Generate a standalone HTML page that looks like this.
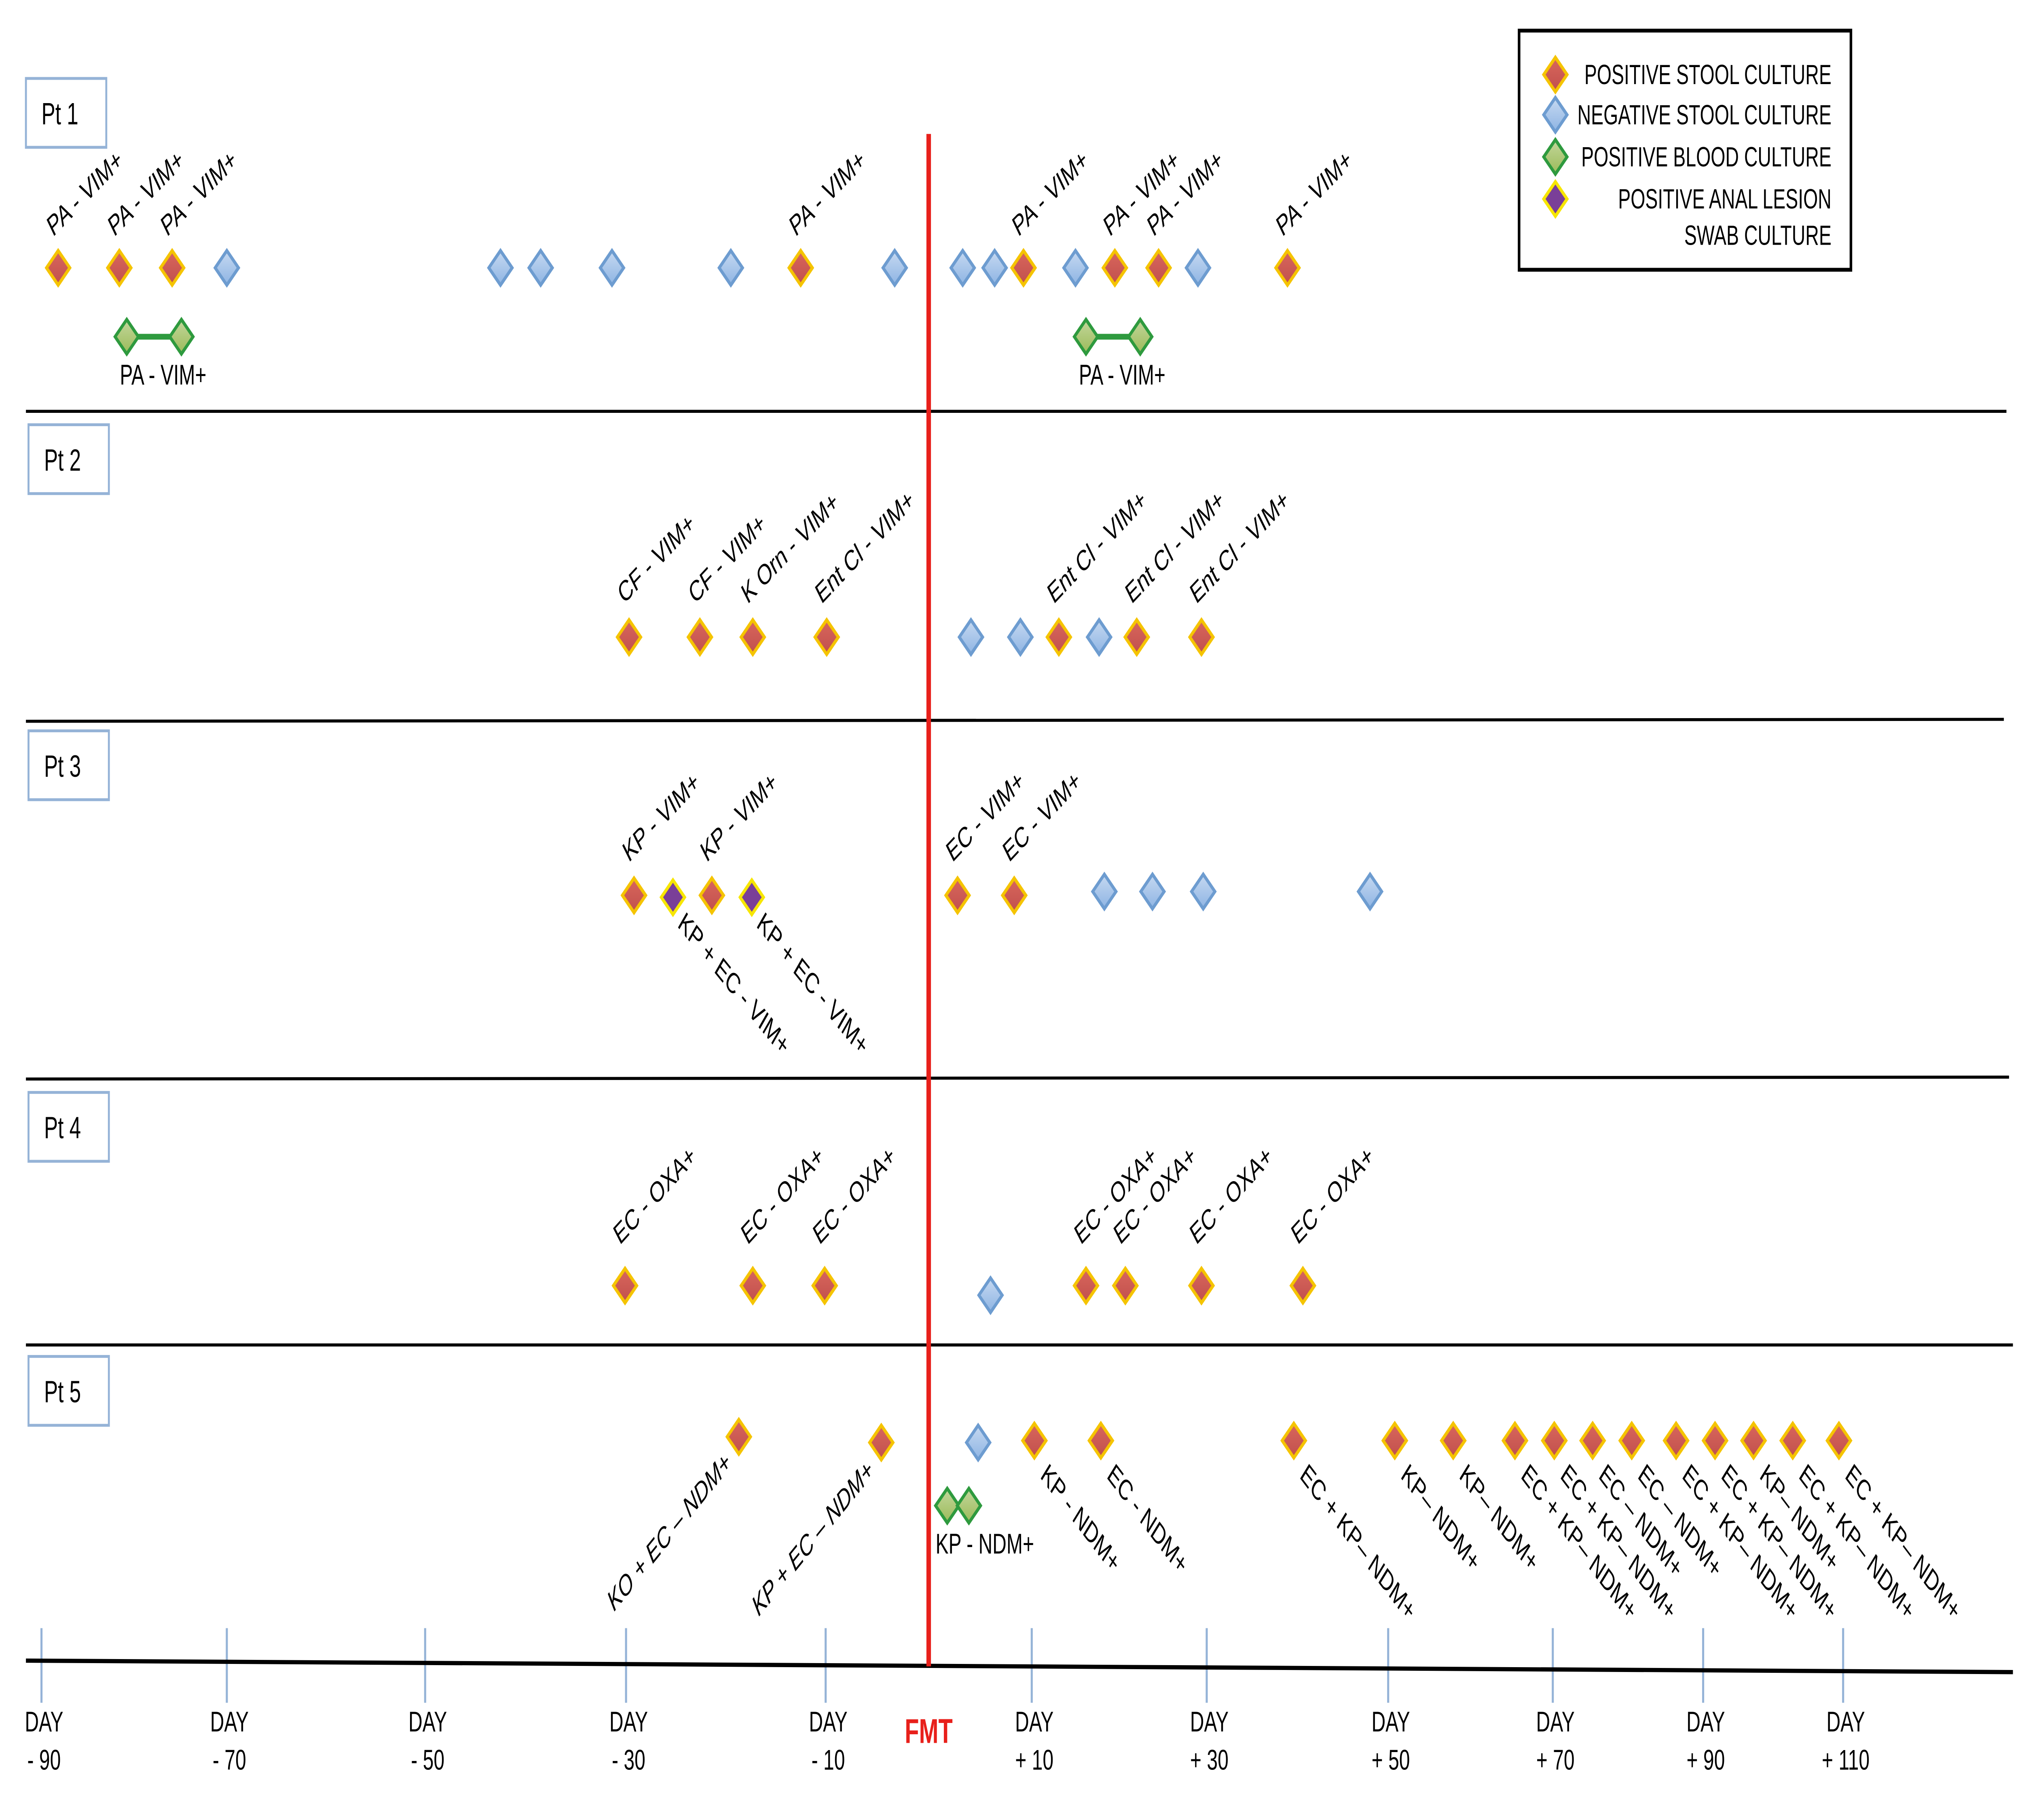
<!DOCTYPE html>
<html><head><meta charset="utf-8"><style>
html,body{margin:0;padding:0;background:#fff;width:100%;height:100%;overflow:hidden;}
svg{display:block;position:fixed;left:0;top:0;width:100vw;height:100vh;}
text{font-family:"Liberation Sans",sans-serif;fill:#000;}
</style></head><body>
<svg id="chart" xmlns="http://www.w3.org/2000/svg" viewBox="0 0 1560 951.3" preserveAspectRatio="none">
<defs>
<linearGradient id="gPos" x1="0" y1="0" x2="0" y2="1"><stop offset="0" stop-color="#d9665c"/><stop offset="1" stop-color="#c0504d"/></linearGradient>
<linearGradient id="gNeg" x1="0" y1="0" x2="0" y2="1"><stop offset="0" stop-color="#c6d9f1"/><stop offset="1" stop-color="#8eb4e3"/></linearGradient>
<linearGradient id="gBld" x1="0" y1="0" x2="0" y2="1"><stop offset="0" stop-color="#c3d69b"/><stop offset="1" stop-color="#9bbb59"/></linearGradient>
</defs>
<g id="frame"></g>
<g id="marks"></g>
</svg>
<script>
// ---- axis ticks ----
var tickDays = [-90,-70,-50,-30,-10,10,30,50,70,90,110];
var tickLabels = ["- 90","- 70","- 50","- 30","- 10","+ 10","+ 30","+ 50","+ 70","+ 90","+ 110"];
// ---- Patient 1 ----
var p1PosDays = [-88.2,-81.6,-75.9,-12.5,9.2,19.5,24.5,38.9];
var p1PosLabels = ["PA - VIM+","PA - VIM+","PA - VIM+","PA - VIM+","PA - VIM+","PA - VIM+","PA - VIM+","PA - VIM+"];
var p1NegDays = [-70,-42.5,-38.5,-31.4,-19.5,-3.3,3.3,6.4,15,29];
var p1BloodStart = [-80.8,16.2];
var p1BloodEnd = [-74.9,22.4];
var p1BloodLabels = ["PA -  VIM+","PA -  VIM+"];
// ---- Patient 2 ----
var p2PosDays = [-29.7,-22.6,-17.3,-9.9,13.1,22,29.4];
var p2PosLabels = ["CF - VIM+","CF - VIM+","K Orn - VIM+","Ent Cl - VIM+","Ent Cl - VIM+","Ent Cl - VIM+","Ent Cl - VIM+"];
var p2NegDays = [4.1,8.9,17.7];
// ---- Patient 3 ----
var p3PosDays = [-29.2,-21.4,2.8,8.3];
var p3PosLabels = ["KP - VIM+","KP - VIM+","EC - VIM+","EC - VIM+"];
var p3SwabDays = [-25.3,-17.4];
var p3SwabLabels = ["KP + EC - VIM+","KP + EC - VIM+"];
var p3NegDays = [18.3,23.8,29.6,48];
// ---- Patient 4 ----
var p4PosDays = [-30.1,-17.3,-10.1,16.2,20.7,29.4,40.6];
var p4PosLabels = ["EC - OXA+","EC - OXA+","EC - OXA+","EC - OXA+","EC - OXA+","EC - OXA+","EC - OXA+"];
var p4NegDays = [6.0];
// ---- Patient 5 ----
var p5PreDays = [-18.7,-4.6];
var p5PreLabels = ["KO + EC – NDM+","KP + EC – NDM+"];
var p5PosDays = [10.3,17.9,39.6,50.8,57.9,65.4,70.2,75.3,80.5,86.4,91.7,97.2,102.8,109.4];
var p5PosLabels = ["KP - NDM+","EC - NDM+","EC + KP– NDM+","KP– NDM+","KP– NDM+","EC + KP– NDM+","EC + KP– NDM+","EC – NDM+","EC – NDM+","EC + KP– NDM+","EC + KP– NDM+","KP– NDM+","EC + KP– NDM+","EC + KP– NDM+"];
var p5NegDays = [4.8];
var p5BloodDays = [1.8,3.9];
var p5BloodLabel = "KP -  NDM+";

var NS="http://www.w3.org/2000/svg";
var tickPx=[32,175,328,483,637,796,931,1071,1198,1314,1422];
function xScale(d){
  if(d<=tickDays[0]) return tickPx[0]+(d-tickDays[0])*7.15;
  for(var i=0;i<tickDays.length-1;i++){
    if(d<=tickDays[i+1]){var t=(d-tickDays[i])/(tickDays[i+1]-tickDays[i]);return tickPx[i]+t*(tickPx[i+1]-tickPx[i]);}
  }
  var n=tickDays.length-1;return tickPx[n]+(d-tickDays[n])*5.4;
}
function mk(tag,attrs,parent){var e=document.createElementNS(NS,tag);for(var k in attrs)e.setAttribute(k,attrs[k]);parent.appendChild(e);return e;}
var frame=document.getElementById('frame'),marks=document.getElementById('marks');

var seps=[[20,215,1548,215],[20,377,1546,376],[20,564,1550,563],[20,703,1553,703]];
seps.forEach(function(s,i){var l=mk('line',{x1:s[0],y1:s[1],x2:s[2],y2:s[3],stroke:'#000','stroke-width':1.6},frame);

});
var boxes=[[20,41,'Pt 1'],[22,222,'Pt 2'],[22,382,'Pt 3'],[22,571,'Pt 4'],[22,709,'Pt 5']];
boxes.forEach(function(b,i){var g=mk('g',{},frame);


mk('rect',{x:b[0],y:b[1],width:62,height:36,fill:'#fff',stroke:'#95b3d7','stroke-width':1.5},g);
var t=mk('text',{x:b[0]+12,y:b[1]+24,'font-size':16},g);t.textContent=b[2];});
tickDays.forEach(function(d,i){var x=xScale(d);
var l=mk('line',{x1:x,y1:851,x2:x,y2:890,stroke:'#95b3d7','stroke-width':1.6},frame);


var t1=mk('text',{x:x+2,y:905,'font-size':15,'text-anchor':'middle'},frame);t1.textContent='DAY';


var t2=mk('text',{x:x+2,y:925,'font-size':15,'text-anchor':'middle'},frame);t2.textContent=tickLabels[i];

});
var ax=mk('line',{x1:20,y1:868,x2:1553,y2:874,stroke:'#000','stroke-width':2.2},frame);


var f0=xScale(0);
var fl=mk('line',{x1:f0,y1:70,x2:f0,y2:871,stroke:'#e8201b','stroke-width':3.5},frame);


var ft=mk('text',{x:f0,y:911,'font-size':18,'font-weight':'bold','text-anchor':'middle',style:'fill:#e8201b'},frame);ft.textContent='FMT';



var styles={pos:['url(#gPos)','#f5c400'],neg:['url(#gNeg)','#6d9cd0'],bld:['url(#gBld)','#2e9a3e'],swab:['#7a3f98','#f7e600']};
function diamond(x,y,type,name,parent){var s=styles[type],h=9;
var p=mk('polygon',{points:(x)+','+(y-h)+' '+(x+h)+','+y+' '+x+','+(y+h)+' '+(x-h)+','+y,fill:s[0],stroke:s[1],'stroke-width':2},parent||marks);

return p;}
function label(x,y,ang,txt,anchor,italic){var t=mk('text',{x:x,y:y,'font-size':15,'text-anchor':anchor||'start',transform:'rotate('+ang+' '+x+' '+y+')'},marks);
if(italic)t.setAttribute('font-style','italic');t.textContent=txt;

}

p1NegDays.forEach(function(d){diamond(xScale(d),140,'neg','p1-negative-stool');});
p1PosDays.forEach(function(d,i){var x=xScale(d);diamond(x,140,'pos','p1-positive-stool');label(x-4,124,-35,p1PosLabels[i]);});
p1BloodStart.forEach(function(d,i){var x1=xScale(d),x2=xScale(p1BloodEnd[i]);
var l=mk('line',{x1:x1,y1:176,x2:x2,y2:176,stroke:'#2e9a3e','stroke-width':3},marks);


diamond(x1,176,'bld','p1-positive-blood');diamond(x2,176,'bld','p1-positive-blood');
var t=mk('text',{x:(x1+x2)/2+7,y:201,'font-size':15,'text-anchor':'middle'},marks);t.textContent=p1BloodLabels[i];

});
p2NegDays.forEach(function(d){diamond(xScale(d),333,'neg','p2-negative-stool');});
p2PosDays.forEach(function(d,i){var x=xScale(d);diamond(x,333,'pos','p2-positive-stool');label(x-4,316,-36,p2PosLabels[i]);});
p3NegDays.forEach(function(d){diamond(xScale(d),466,'neg','p3-negative-stool');});
p3PosDays.forEach(function(d,i){var x=xScale(d);diamond(x,468,'pos','p3-positive-stool');label(x-4,451,-36,p3PosLabels[i]);});
p3SwabDays.forEach(function(d,i){var x=xScale(d);diamond(x,469,'swab','p3-anal-swab');label(x+3,484,40,p3SwabLabels[i]);});
p4NegDays.forEach(function(d){diamond(xScale(d),677,'neg','p4-negative-stool');});
p4PosDays.forEach(function(d,i){var x=xScale(d);diamond(x,672,'pos','p4-positive-stool');label(x-4,651,-37,p4PosLabels[i]);});
p5NegDays.forEach(function(d){diamond(xScale(d),754,'neg','p5-negative-stool');});
p5PreDays.forEach(function(d,i){var x=xScale(d);diamond(x,751+i*3,'pos','p5-positive-stool');label(x-5,766+i*4,-40,p5PreLabels[i],'end',true);});
p5PosDays.forEach(function(d,i){var x=xScale(d);diamond(x,753,'pos','p5-positive-stool');label(x+4,772,42,p5PosLabels[i]);});
p5BloodDays.forEach(function(d){diamond(xScale(d),787,'bld','p5-positive-blood');});
var bt=mk('text',{x:xScale(p5BloodDays[0])-9,y:812,'font-size':15},marks);bt.textContent=p5BloodLabel;



var lg=mk('g',{},frame);


mk('rect',{x:1172,y:16,width:256,height:125,fill:'#fff',stroke:'#000','stroke-width':2},lg);
var legItems=[['pos',39,'POSITIVE STOOL CULTURE'],['neg',60,'NEGATIVE STOOL CULTURE'],['bld',82,'POSITIVE BLOOD CULTURE'],['swab',104,'POSITIVE ANAL LESION']];
legItems.forEach(function(it){diamond(1200,it[1],it[0],'legend-marker',lg);
var t=mk('text',{x:1413,y:it[1]+5,'font-size':14.5,'text-anchor':'end'},lg);t.textContent=it[2];

});
var t5=mk('text',{x:1413,y:128,'font-size':14.5,'text-anchor':'end'},lg);t5.textContent='SWAB CULTURE';


</script>
</body></html>
